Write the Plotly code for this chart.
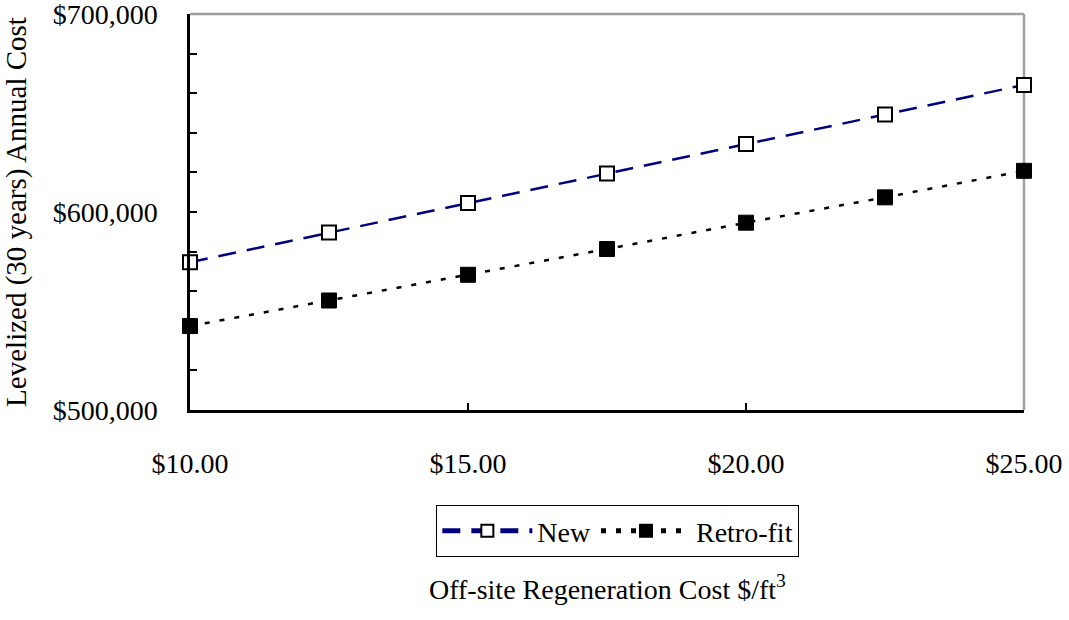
import plotly.graph_objects as go

regen_cost = [10.0, 12.5, 15.0, 17.5, 20.0, 22.5, 25.0]
new_cost = [574600, 589600, 604500, 619500, 634300, 649200, 664200]
retrofit_cost = [542400, 555300, 568300, 581300, 594600, 607400, 620800]
x_ticks = [10, 15, 20, 25]
x_tick_labels = ["$10.00", "$15.00", "$20.00", "$25.00"]
y_ticks = [500000, 600000, 700000]
y_tick_labels = ["$500,000", "$600,000", "$700,000"]

FONT = "Liberation Serif, Times New Roman, serif"
FS = 28

fig = go.Figure()
fig.add_trace(go.Scatter(
    x=regen_cost, y=new_cost, name="New", mode="lines+markers",
    line=dict(color="#000080", width=2.5, dash="18px,11px"),
    marker=dict(symbol="square", size=14, color="white",
                line=dict(color="black", width=2)),
    cliponaxis=False,
))
fig.add_trace(go.Scatter(
    x=regen_cost, y=retrofit_cost, name="Retro-fit", mode="lines+markers",
    line=dict(color="black", width=2.5, dash="5px,10px"),
    marker=dict(symbol="square", size=15, color="black",
                line=dict(color="black", width=1)),
    cliponaxis=False,
))

fig.update_layout(
    width=1069, height=620,
    margin=dict(l=190, r=45, t=14, b=210),
    paper_bgcolor="white", plot_bgcolor="white",
    font=dict(family=FONT, size=FS, color="black"),
    showlegend=True,
    legend=dict(
        orientation="h", x=0.513, y=-0.24, xanchor="center", yanchor="top",
        bordercolor="black", borderwidth=1, bgcolor="white",
        font=dict(family=FONT, size=FS), itemwidth=90,
        itemsizing="constant", tracegroupgap=0,
    ),
    xaxis=dict(
        range=[10, 25], tickvals=x_ticks, ticktext=x_tick_labels,
        showgrid=False, zeroline=False, automargin=False,
        showline=True, linecolor="black", linewidth=2.5,
        ticks="inside", ticklen=7, tickwidth=2, tickcolor="black",
        ticklabelstandoff=27, ticklabeloverflow="allow",
    ),
    yaxis=dict(
        range=[500000, 700000], tickvals=y_ticks, ticktext=y_tick_labels,
        showgrid=False, zeroline=False, automargin=False,
        showline=True, linecolor="black", linewidth=2.5,
        ticks="inside", ticklen=7, tickwidth=2, tickcolor="black",
        minor=dict(dtick=20000, ticks="inside", ticklen=7, tickwidth=2,
                   tickcolor="black", showgrid=False),
        ticklabelstandoff=24, ticklabeloverflow="allow",
        title=dict(text="Levelized (30 years) Annual Cost", standoff=18,
                   font=dict(family=FONT, size=29)),
    ),
    shapes=[
        dict(type="line", xref="paper", yref="paper", x0=0, x1=1, y0=1, y1=1,
             line=dict(color="#a0a0a0", width=2.5), layer="below"),
        dict(type="line", xref="paper", yref="paper", x0=1, x1=1, y0=0, y1=1,
             line=dict(color="#a0a0a0", width=2.5), layer="below"),
    ],
    annotations=[
        dict(text="Off-site Regeneration Cost $/ft<sup>3</sup>",
             xref="paper", yref="paper", x=0.5, y=-0.448,
             xanchor="center", yanchor="middle", showarrow=False,
             font=dict(family=FONT, size=FS)),
    ],
)

fig.write_html("out.html", config={"displayModeBar": False},
               post_script="document.body.style.margin='0';")
